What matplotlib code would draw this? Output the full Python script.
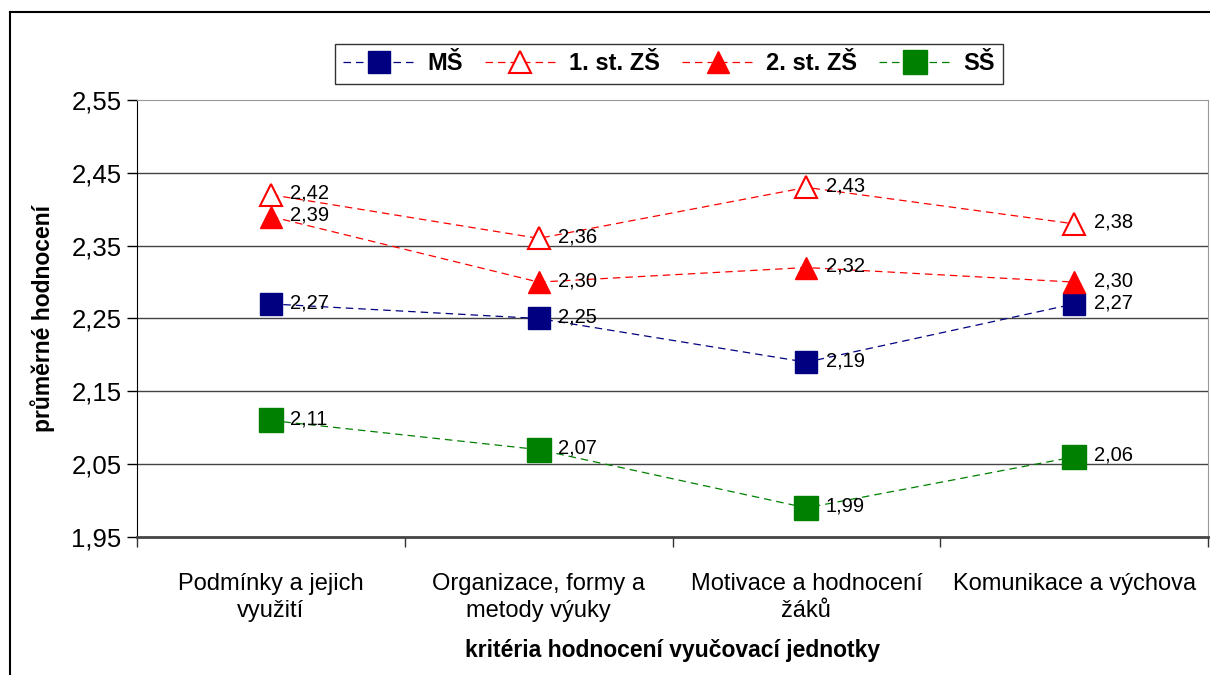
import matplotlib.pyplot as plt
from matplotlib.lines import Line2D
from matplotlib.ticker import FuncFormatter, FixedLocator

plt.rcParams["font.family"] = ["Liberation Sans", "DejaVu Sans"]

categories = [
    "Podmínky a jejich\nvyužití",
    "Organizace, formy a\nmetody výuky",
    "Motivace a hodnocení\nžáků",
    "Komunikace a výchova",
]
ms = [2.27, 2.25, 2.19, 2.27]
zs1 = [2.42, 2.36, 2.43, 2.38]
zs2 = [2.39, 2.30, 2.32, 2.30]
ss = [2.11, 2.07, 1.99, 2.06]
y_ticks = [1.95, 2.05, 2.15, 2.25, 2.35, 2.45, 2.55]

NAVY = "#000080"
RED = "#ff0000"
GREEN = "#008000"

fig = plt.figure(figsize=(12.1, 6.75), dpi=100)
ax = fig.add_axes([137 / 1210, 1 - 537 / 675, 1071 / 1210, 437 / 675])

x = list(range(len(categories)))
series = [
    ("MŠ", ms, dict(color=NAVY, marker="s", markersize=15.5, markerfacecolor=NAVY, markeredgecolor=NAVY)),
    ("1. st. ZŠ", zs1, dict(color=RED, marker="^", markersize=15.5, markerfacecolor="white", markeredgecolor=RED, markeredgewidth=1.5)),
    ("2. st. ZŠ", zs2, dict(color=RED, marker="^", markersize=15.5, markerfacecolor=RED, markeredgecolor=RED)),
    ("SŠ", ss, dict(color=GREEN, marker="s", markersize=17.5, markerfacecolor=GREEN, markeredgecolor=GREEN)),
]
handles = []
for name, vals, style in series:
    (ln,) = ax.plot(x, vals, linestyle=(0, (6, 4)), linewidth=0.9, label=name, zorder=3, **style)
    handles.append(ln)
    for xi, v in zip(x, vals):
        ax.annotate(
            f"{v:.2f}".replace(".", ","),
            (xi, v),
            xytext=(14, 1),
            textcoords="offset points",
            ha="left",
            va="center",
            fontsize=14.5,
            zorder=4,
        )

ax.set_xlim(-0.5, 3.5)
ax.set_ylim(1.95, 2.55)
ax.set_yticks(y_ticks)
ax.yaxis.set_major_formatter(FuncFormatter(lambda v, p: f"{v:.2f}".replace(".", ",")))
ax.tick_params(axis="y", labelsize=18.5, length=7, width=1, direction="out", pad=4)

ax.set_xticks(x)
ax.set_xticklabels(categories, fontsize=17, linespacing=1.3)
ax.xaxis.set_minor_locator(FixedLocator([-0.5, 0.5, 1.5, 2.5, 3.5]))
ax.tick_params(axis="x", which="major", length=0, pad=26)
ax.tick_params(axis="x", which="minor", length=7, width=1, color="#333333")

for yv in y_ticks[1:-1]:
    ax.axhline(yv, color="#444444", linewidth=1, zorder=1)
ax.spines["top"].set_color("#999999")
ax.spines["right"].set_color("#999999")
ax.spines["left"].set_color("black")
ax.spines["bottom"].set_color("#444444")
ax.spines["bottom"].set_linewidth(2)

ax.set_ylabel("průměrné hodnocení", fontsize=16.5, fontweight="bold", labelpad=12)
ax.set_xlabel("kritéria hodnocení vyučovací jednotky", fontsize=16.5, fontweight="bold", labelpad=12)

leg = fig.legend(
    handles=handles,
    loc="center",
    bbox_to_anchor=(669 / 1210, 1 - 64 / 675),
    ncol=4,
    prop={"weight": "bold", "size": 17},
    frameon=True,
    fancybox=False,
    edgecolor="black",
    handlelength=3.0,
    handletextpad=0.55,
    columnspacing=0.95,
    borderpad=0.35,
)
leg.get_frame().set_linewidth(1)

fig.add_artist(Line2D([10 / 1210, 10 / 1210], [0, 1 - 12 / 675], color="black", linewidth=1.5))
fig.add_artist(Line2D([10 / 1210, 1], [1 - 12 / 675, 1 - 12 / 675], color="black", linewidth=1.5))

fig.savefig("out.png", dpi=100)
